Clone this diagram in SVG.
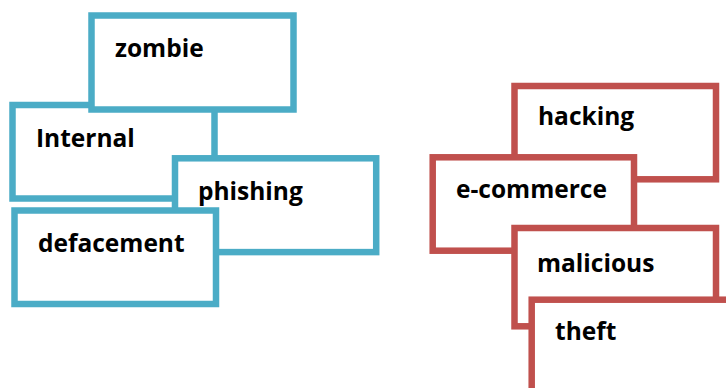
<svg xmlns="http://www.w3.org/2000/svg" width="726" height="388" viewBox="0 0 726 388">
<style>
.b{fill:#ffffff;stroke:#4BACC6;stroke-width:6.5}
.r{fill:#ffffff;stroke:#C0504D;stroke-width:6.5}
text{font-family:"Open Sans","Liberation Sans",sans-serif;font-weight:700;font-size:24.5px;fill:#000000}
</style>
<rect width="726" height="388" fill="#ffffff"/>
<g id="internal"><rect class="b" x="12.5" y="105" width="202" height="93.5"/><text x="36" y="147">Internal</text></g>
<g id="zombie"><rect class="b" x="91.5" y="15.5" width="202" height="94"/><text x="115" y="57">zombie</text></g>
<g id="phishing"><rect class="b" x="175" y="158.3" width="201.2" height="93.8"/><text x="198" y="199.5">phishing</text></g>
<g id="defacement"><rect class="b" x="14.5" y="210.5" width="201.5" height="93.5"/><text x="38" y="252">defacement</text></g>
<g id="hacking"><rect class="r" x="514.5" y="86" width="201.5" height="93.3"/><text x="538" y="125">hacking</text></g>
<g id="e-commerce"><rect class="r" x="432.7" y="157.3" width="201.3" height="93.4"/><text x="456" y="198.3">e-commerce</text></g>
<g id="malicious"><rect class="r" x="514.5" y="228" width="201.5" height="98.3"/><text x="537" y="271.7">malicious</text></g>
<g id="theft"><rect class="r" x="531.7" y="299.7" width="210" height="100"/><text x="555" y="340">theft</text></g>
<g id="connectors"></g>
</svg>
